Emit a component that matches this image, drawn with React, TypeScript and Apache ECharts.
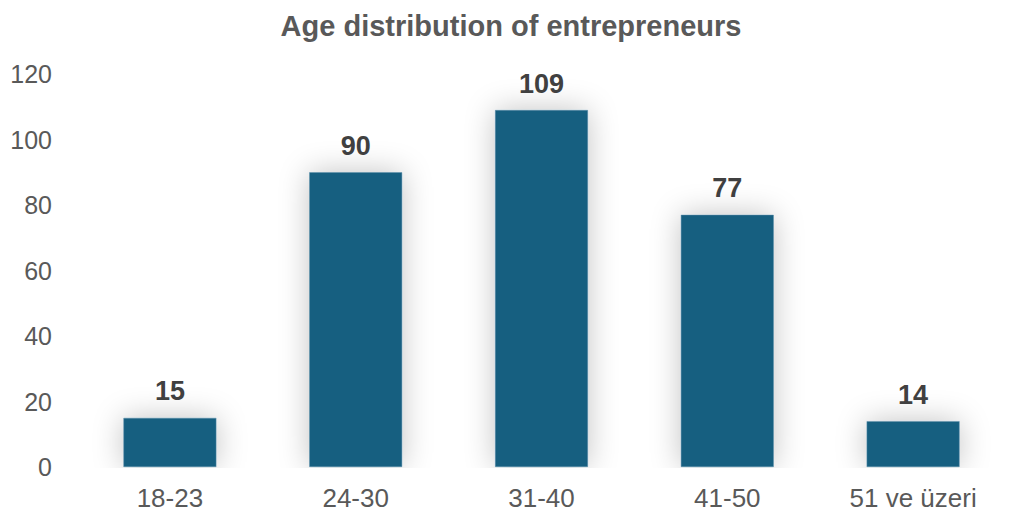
import React, { useEffect, useRef } from "react";
import * as echarts from "echarts";

const categories = ["18-23", "24-30", "31-40", "41-50", "51 ve üzeri"];
const counts = [15, 90, 109, 77, 14];
const titleText = "Age distribution of entrepreneurs";

export default function App() {
  const ref = useRef<HTMLDivElement>(null);
  useEffect(() => {
    if (!ref.current) return;
    const chart = echarts.init(ref.current, undefined, { renderer: "svg" });
    const font = "'Liberation Sans', Arial, Helvetica, sans-serif";
    chart.setOption({
      animation: false,
      backgroundColor: "#ffffff",
      title: {
        text: titleText,
        left: "center",
        top: 6,
        textStyle: { fontFamily: font, fontSize: 29, fontWeight: "bold", color: "#595959" },
      },
      grid: { left: 77, right: 16, top: 74, bottom: 48, containLabel: false },
      xAxis: {
        type: "category",
        data: categories,
        z: 10,
        axisLine: { show: false },
        axisTick: { show: false },
        axisLabel: { fontFamily: font, fontSize: 26, color: "#595959", margin: 18 },
      },
      yAxis: {
        type: "value",
        min: 0,
        max: 120,
        interval: 20,
        z: 10,
        splitLine: { show: false },
        axisLine: { show: false },
        axisTick: { show: false },
        axisLabel: { fontFamily: font, fontSize: 25, color: "#595959", margin: 25 },
      },
      graphic: [
        {
          type: "rect",
          z: 5,
          silent: true,
          shape: { x: 0, y: 468, width: 1022, height: 47 },
          style: { fill: "#ffffff" },
        },
      ],
      series: [
        {
          type: "bar",
          data: counts,
          barWidth: "50%",
          itemStyle: {
            color: "#175e80",
            borderColor: "#5d8fa8",
            borderWidth: 0.5,
            shadowBlur: 30,
            shadowColor: "rgba(0,0,0,0.24)",
          },
          label: {
            show: true,
            position: "top",
            distance: 13,
            fontFamily: font,
            fontSize: 27,
            fontWeight: "bold",
            color: "#404040",
          },
        },
      ],
    });
    return () => chart.dispose();
  }, []);
  return (
    <div
      ref={ref}
      style={{ position: "fixed", left: 0, top: 0, width: 1022, height: 515 }}
    />
  );
}
